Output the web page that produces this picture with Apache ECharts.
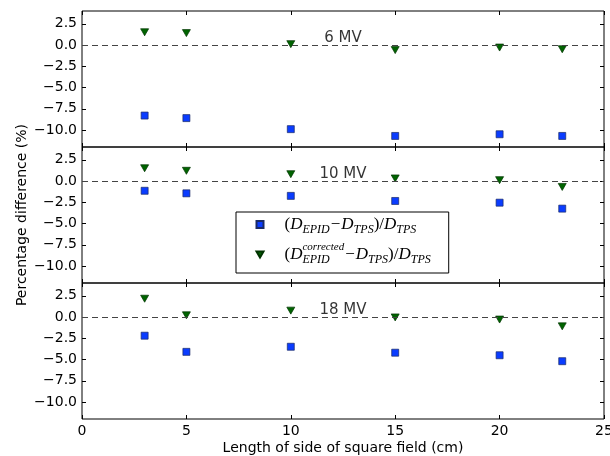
<!DOCTYPE html>
<html>
<head>
<meta charset="utf-8">
<script src="https://cdn.jsdelivr.net/npm/echarts@6/dist/echarts.min.js"></script>
<style>html,body{margin:0;padding:0;background:#fff}#c{width:610px;height:456px}</style>
</head>
<body>
<div id="c"></div>
<script>
// ---- data ----
var fieldSizes = [3, 5, 10, 15, 20, 23];
var panelLabels = ['6 MV', '10 MV', '18 MV'];
var epid6  = [-8.3, -8.6, -9.9, -10.7, -10.5, -10.7];
var corr6  = [1.5, 1.4, 0.1, -0.6, -0.3, -0.5];
var epid10 = [-1.15, -1.45, -1.75, -2.35, -2.55, -3.25];
var corr10 = [1.5, 1.2, 0.8, 0.3, 0.1, -0.7];
var epid18 = [-2.2, -4.1, -3.5, -4.2, -4.5, -5.2];
var corr18 = [2.15, 0.2, 0.75, -0.05, -0.3, -1.1];
var yTicks = [-10, -7.5, -5, -2.5, 0, 2.5];
var xTicks = [0, 5, 10, 15, 20, 25];
var labelPos = [12.5, 0.8];

var epidSets = [epid6, epid10, epid18];
var corrSets = [corr6, corr10, corr18];

function pairs(xs, ys) { return xs.map(function (x, i) { return [x, ys[i]]; }); }
function fmt(v) { return v.toFixed(1).replace('-', '\u2212'); }

var chart = echarts.init(document.getElementById('c'), null, {renderer: 'canvas'});
var grids = [], xAxes = [], yAxes = [], series = [];
var tops = [11, 147, 283];
var FONT = 'DejaVu Sans';
for (var g = 0; g < 3; g++) {
  grids.push({left: 82, width: 522, top: tops[g], height: 136, show: true,
    borderColor: '#000', borderWidth: 1, backgroundColor: 'transparent', containLabel: false,
    outerBoundsMode: 'none'});
  var isLast = g === 2;
  xAxes.push({type: 'value', gridIndex: g, min: 0, max: 25, interval: 5, position: 'bottom',
    axisLine: {show: false, onZero: false}, splitLine: {show: false},
    axisTick: {show: true, inside: true, length: 4, customValues: xTicks, lineStyle: {color: '#000'}},
    axisLabel: {show: isLast, customValues: xTicks, margin: 5, color: '#000', fontSize: 14, fontFamily: FONT},
    name: isLast ? 'Length of side of square field (cm)' : '', nameLocation: 'middle', nameGap: 22,
    nameMoveOverlap: false,
    nameTextStyle: {color: '#000', fontSize: 14, fontFamily: FONT}});
  xAxes.push({type: 'value', gridIndex: g, min: 0, max: 25, interval: 5, position: 'top',
    axisLine: {show: false, onZero: false}, splitLine: {show: false},
    axisTick: {show: true, inside: true, length: 4, customValues: xTicks, lineStyle: {color: '#000'}},
    axisLabel: {show: false}});
  yAxes.push({type: 'value', gridIndex: g, min: -12, max: 4, position: 'left',
    axisLine: {show: false, onZero: false}, splitLine: {show: false},
    axisTick: {show: true, inside: true, length: 4, customValues: yTicks, lineStyle: {color: '#000'}},
    axisLabel: {show: true, customValues: yTicks, margin: 5, color: '#000', fontSize: 14, fontFamily: FONT,
      formatter: fmt},
    name: g === 1 ? 'Percentage difference (%)' : '', nameLocation: 'middle', nameGap: 53, nameRotate: 90,
    nameMoveOverlap: false,
    nameTextStyle: {color: '#000', fontSize: 14, fontFamily: FONT}});
  yAxes.push({type: 'value', gridIndex: g, min: -12, max: 4, position: 'right',
    axisLine: {show: false, onZero: false}, splitLine: {show: false},
    axisTick: {show: true, inside: true, length: 4, customValues: yTicks, lineStyle: {color: '#000'}},
    axisLabel: {show: false}});

  series.push({type: 'scatter', name: 'epid', xAxisIndex: 2 * g, yAxisIndex: 2 * g,
    data: pairs(fieldSizes, epidSets[g]), symbol: 'rect', symbolSize: 7,
    itemStyle: {color: '#0a3cff', borderColor: '#1a2a66', borderWidth: 0.7, opacity: 1},
    markLine: {silent: true, symbol: ['none', 'none'], label: {show: false},
      lineStyle: {color: '#444', type: [6, 4], width: 1.2}, data: [{yAxis: 0}]},
    z: 3});
  series.push({type: 'scatter', name: 'corr', xAxisIndex: 2 * g, yAxisIndex: 2 * g,
    data: pairs(fieldSizes, corrSets[g]), symbol: 'triangle', symbolRotate: 180, symbolSize: [8, 7],
    itemStyle: {color: '#006400', borderColor: '#003300', borderWidth: 0.7, opacity: 1}, z: 3});
  series.push({type: 'scatter', name: 'lbl' + g, xAxisIndex: 2 * g, yAxisIndex: 2 * g,
    data: [labelPos], symbolSize: 1, itemStyle: {color: 'rgba(0,0,0,0)'}, silent: true,
    label: {show: true, position: 'inside', formatter: panelLabels[g], color: '#000',
      textBorderWidth: 0, textBorderColor: 'transparent',
      fontSize: 15, fontFamily: FONT}, z: 4});
}

var base = {fontFamily: 'Liberation Serif', fontStyle: 'italic', color: '#000'};
function R(o) { return Object.assign({}, base, o); }
var rich = {
  sp: {width: 16, height: 27},
  p: R({fontStyle: 'normal', fontSize: 17, lineHeight: 27, verticalAlign: 'middle'}),
  D: R({fontSize: 17, lineHeight: 27, verticalAlign: 'middle'}),
  m: R({fontStyle: 'normal', fontSize: 17, lineHeight: 27, verticalAlign: 'middle', padding: [0, 1, 0, 1]}),
  sub: R({fontSize: 12, lineHeight: 12, verticalAlign: 'bottom', padding: [0, 0, 2, 0]}),
  subz: R({fontSize: 12, lineHeight: 12, verticalAlign: 'bottom', padding: [0, 0, 2, 0], width: 0, align: 'left'}),
  sup: R({fontSize: 11, lineHeight: 11, verticalAlign: 'top', padding: [1, 0, 0, 0]})
};
var legendText = {
  epid: '{sp|}{p|(}{D|D}{sub|EPID}{m|\u2212}{D|D}{sub|TPS}{p|)/}{D|D}{sub|TPS}',
  corr: '{sp|}{p|(}{D|D}{subz|EPID}{sup|corrected}{m|\u2212}{D|D}{sub|TPS}{p|)/}{D|D}{sub|TPS}'
};

chart.setOption({
  animation: false,
  backgroundColor: '#fff',
  grid: grids, xAxis: xAxes, yAxis: yAxes, series: series,
  legend: {
    data: [{name: 'epid', icon: 'rect'}, {name: 'corr', icon: 'path://M0,0 L8,0 L4,7 Z'}],
    orient: 'vertical', left: 236, top: 212,
    padding: [4, 18, 5, 19.5], itemGap: 3, itemWidth: 7, itemHeight: 7,
    backgroundColor: '#fff', borderColor: '#000', borderWidth: 1, borderRadius: 0,
    selectedMode: false,
    formatter: function (n) { return legendText[n]; },
    textStyle: {rich: rich}
  }
});
</script>
</body>
</html>
